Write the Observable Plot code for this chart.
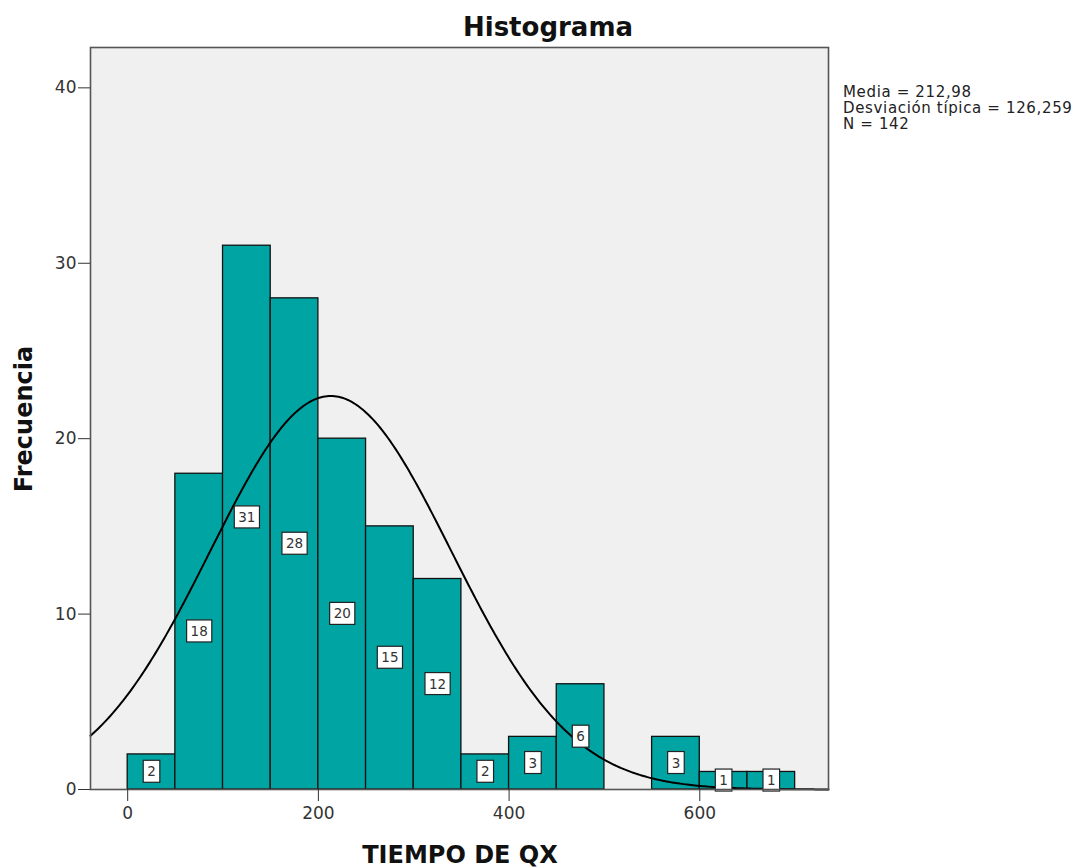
<!DOCTYPE html>
<html>
<head>
<meta charset="utf-8">
<script src="https://cdn.jsdelivr.net/npm/d3@7"></script>
<script src="https://cdn.jsdelivr.net/npm/@observablehq/plot@0.6"></script>
<style>
  body { margin: 0; background: #fff; font-family: "DejaVu Sans", sans-serif; }
  #wrap { position: relative; width: 1085px; height: 868px; overflow: hidden; }
  #wrap svg { position: absolute; left: 0; top: 0; }
  .abs { position: absolute; white-space: nowrap; color: #111; }
  #title { left: 548px; top: 12px; transform: translateX(-50%); font-size: 26px; font-weight: bold; line-height: 30px; }
  #xlab { left: 460px; top: 844px; transform: translateX(-50%); font-size: 24px; font-weight: bold; line-height: 22px; }
  #ylab { left: 24px; top: 419px; transform: translate(-50%, -50%) rotate(-90deg); font-size: 24px; font-weight: bold; line-height: 25px; }
  #legend { left: 843px; top: 84px; font-size: 15px; letter-spacing: 0.65px; line-height: 16px; color: #222; }
</style>
</head>
<body>
<div id="wrap">
  <div id="title" class="abs">Histograma</div>
  <div id="xlab" class="abs">TIEMPO DE QX</div>
  <div id="ylab" class="abs">Frecuencia</div>
  <div id="legend" class="abs">Media = 212,98<br>Desviación típica = 126,259<br>N = 142</div>
</div>
<script>
// ---- data ----
const binStarts = [0, 50, 100, 150, 200, 250, 300, 350, 400, 450, 500, 550, 600, 650];
const binWidth = 50;
const counts    = [2, 18, 31, 28, 20, 15, 12, 2, 3, 6, 0, 3, 1, 1];
const media = 212.98;
const desviacion = 126.259;
const nTotal = 142;
const xTicks = [0, 200, 400, 600];
const yTicks = [0, 10, 20, 30, 40];
const xDomain = [-39, 735];
const yDomain = [0, 42.3];

// ---- derived tables ----
const bins = binStarts.map((s, i) => ({x0: s, x1: s + binWidth, mid: s + binWidth / 2, count: counts[i], half: counts[i] / 2}))
  .filter(d => d.count > 0);

// normal curve defined by the displayed statistics (scaled to frequencies)
const scale = nTotal * binWidth / (desviacion * Math.sqrt(2 * Math.PI));
const curve = d3.range(xDomain[0], xDomain[1] + 1, 2).map(x => ({
  x, y: scale * Math.exp(-0.5 * ((x - media) / desviacion) ** 2)
}));

const plot = Plot.plot({
  width: 1085,
  height: 868,
  marginLeft: 90,
  marginRight: 257,
  marginTop: 47,
  marginBottom: 79,
  x: {domain: xDomain},
  y: {domain: yDomain},
  style: {fontFamily: "DejaVu Sans, sans-serif", fontSize: "17px", color: "#333", background: "transparent", overflow: "visible"},
  marks: [
    Plot.frame({fill: "#f0f0f0", stroke: null}),
    Plot.rectY(bins, {x1: "x0", x2: "x1", y: "count", fill: "#00a5a3", stroke: "#111", strokeWidth: 1.3}),
    Plot.line(curve, {x: "x", y: "y", stroke: "#000", strokeWidth: 2}),
    Plot.text(bins, {x: "mid", y: "half", text: d => String(d.count), fontSize: 13.5, fill: "#333"}),
    Plot.frame({stroke: "#555", strokeWidth: 1.6}),
    Plot.axisY({ticks: yTicks, tickSize: 12, tickPadding: 2, label: null, fontSize: 17}),
    Plot.axisX({ticks: xTicks, tickSize: 12, tickPadding: 5, label: null, fontSize: 17})
  ]
});

document.getElementById("wrap").prepend(plot);

// white boxes behind the count labels
const ns = "http://www.w3.org/2000/svg";
plot.querySelectorAll('g[aria-label="text"] text').forEach(t => {
  const b = t.getBBox();
  const w = b.width + 8, h = 22;
  const cx = b.x + b.width / 2, cy = b.y + b.height / 2;
  const r = document.createElementNS(ns, "rect");
  r.setAttribute("x", cx - w / 2);
  r.setAttribute("y", cy - h / 2);
  r.setAttribute("width", w);
  r.setAttribute("height", h);
  r.setAttribute("fill", "#fff");
  r.setAttribute("stroke", "#222");
  r.setAttribute("stroke-width", "1.2");
  if (t.getAttribute("transform")) r.setAttribute("transform", t.getAttribute("transform"));
  t.parentNode.insertBefore(r, t);
});
</script>
</body>
</html>
